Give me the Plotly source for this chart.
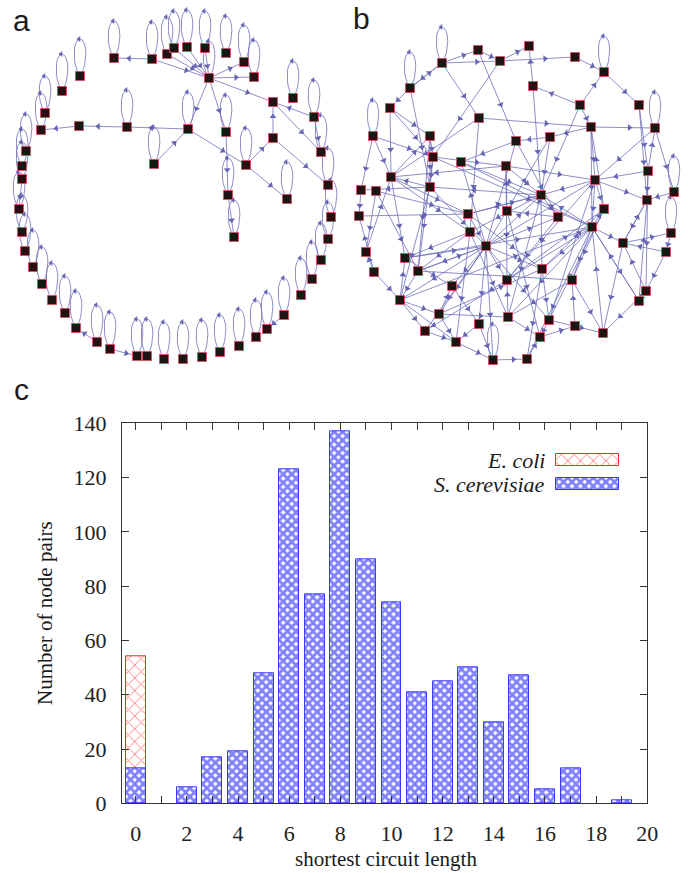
import math
import plotly.graph_objects as go

# ---------------- Panel c: histogram data ----------------
circuit_length = list(range(20))
s_cerevisiae = [13, 0, 6, 17, 19, 48, 123, 77, 137, 90, 74, 41, 45, 50, 30, 47, 5, 13, 0, 1]
e_coli_length = [0]
e_coli = [54]
x_tick_vals = list(range(21))
x_tick_text = [str(v) if v % 2 == 0 else "" for v in x_tick_vals]
y_tick_vals = [0, 20, 40, 60, 80, 100, 120, 140]
legend_names = ["E. coli", "S. cerevisiae"]

# ---------------- Panel a: E. coli network (node positions) -------------
a_x = [114, 152, 167, 174, 187, 205, 226, 244, 254, 209, 80, 62, 45, 41, 79, 127, 188, 154, 226,
       273, 293, 314, 321, 273, 246, 228, 234, 287, 328, 331,
       26, 22, 22, 19, 22, 25, 33, 42, 52, 65, 76, 97, 110, 137, 147, 164, 183, 202, 220, 239,
       256, 267, 284, 301, 312, 321, 328]
a_y = [58, 59, 54, 48, 47, 48, 53, 62, 77, 78, 76, 91, 113, 130, 126, 127, 129, 164, 132,
       102, 98, 117, 152, 138, 165, 195, 237, 199, 185, 217,
       151, 166, 179, 209, 232, 251, 267, 284, 300, 313, 328, 342, 349, 356, 356, 359, 359, 357, 352, 346,
       337, 329, 315, 295, 279, 260, 239]
a_no_loop = [14, 19, 23]
a_edges = [(1, 0), (1, 9), (2, 9), (3, 9), (4, 9), (5, 9), (9, 7), (9, 8), (9, 19), (9, 16), (9, 18),
           (16, 15), (15, 14), (14, 13), (17, 16), (16, 24), (24, 23), (23, 19), (24, 27), (23, 28),
           (19, 22), (21, 19), (21, 22), (18, 25), (25, 26), (41, 40), (42, 43), (52, 51), (32, 33)]

# ---------------- Panel b: S. cerevisiae network ----------------
b_x = [478, 529, 500, 442, 575, 604, 410, 533, 390, 580, 639, 479, 591, 655, 373, 430, 550, 516, 433,
       461, 506, 648, 391, 595, 430, 361, 376, 541, 674, 647, 604, 359, 468, 507, 558, 592, 470, 671,
       623, 486, 366, 666, 405, 418, 374, 542, 507, 572, 452, 646, 400, 639, 439, 508, 479, 549, 575,
       603, 425, 540, 456, 493, 527]
b_y = [50, 46, 61, 63, 57, 72, 88, 86, 108, 105, 105, 118, 127, 128, 136, 136, 137, 141, 157,
       162, 166, 171, 177, 180, 187, 190, 191, 195, 192, 200, 209, 216, 214, 211, 217, 227, 232, 233,
       243, 246, 252, 252, 258, 271, 272, 269, 280, 280, 286, 291, 300, 301, 314, 317, 324, 320, 326,
       333, 331, 337, 342, 360, 359]
b_loops = [3, 5, 6, 13, 14, 28, 37, 61]
b_edges = [(3, 0), (3, 2), (0, 2), (6, 3), (3, 6), (2, 1), (7, 1), (2, 4), (4, 5), (9, 5), (5, 10),
           (9, 7), (9, 12), (9, 27), (12, 13), (12, 16), (11, 12), (3, 11), (6, 8), (8, 15), (6, 24),
           (2, 18), (14, 22), (14, 18), (14, 25), (15, 18), (11, 36), (18, 20), (22, 15), (20, 22),
           (24, 22), (24, 25), (17, 19), (16, 17), (16, 27), (10, 21), (13, 23), (21, 13), (12, 23),
           (23, 27), (21, 23), (23, 29), (7, 27),
           (25, 31), (26, 43), (8, 22), (15, 24), (18, 24), (19, 27), (22, 32), (31, 32), (32, 27),
           (26, 40), (40, 22), (44, 40), (44, 50), (42, 39), (22, 42), (43, 39), (32, 39), (39, 19),
           (39, 27), (39, 34), (39, 45), (39, 46), (39, 48), (39, 52), (39, 50), (39, 54), (39, 55),
           (39, 61), (39, 43), (39, 58), (39, 23), (39, 16), (27, 36), (27, 45), (27, 34), (27, 32),
           (24, 39), (36, 42), (36, 43),
           (23, 30), (23, 35), (35, 30), (35, 38), (35, 47), (35, 51), (35, 53), (35, 27), (35, 45),
           (35, 62), (35, 58), (38, 37), (38, 29), (37, 41), (41, 49), (49, 51), (49, 38), (51, 35),
           (28, 29), (29, 38), (13, 28), (21, 29), (30, 47), (30, 12), (34, 33), (33, 20), (20, 27),
           (17, 34),
           (50, 42), (50, 58), (50, 60), (50, 52), (52, 60), (52, 48), (52, 45), (48, 54), (54, 60),
           (54, 61), (61, 62), (60, 61), (55, 59), (55, 57), (56, 47), (57, 35), (59, 56), (53, 46),
           (52, 53), (45, 55), (47, 57), (58, 60), (42, 48), (43, 50), (44, 31), (45, 30), (46, 30),
           (53, 59), (62, 59), (55, 23), (49, 57), (38, 57),
           (27, 24), (18, 35), (19, 35), (42, 35), (43, 47), (50, 35), (22, 36), (26, 32), (32, 45),
           (17, 39), (20, 46), (34, 46), (23, 46), (12, 35), (11, 22), (8, 18), (15, 43), (18, 43),
           (36, 53), (36, 60), (33, 59), (45, 62), (47, 53), (30, 55), (41, 38), (51, 29), (21, 49),
           (10, 29), (0, 17), (20, 23), (27, 53), (24, 50)]

# ---------------- styles ----------------
W, H = 688, 873
EDGE = "rgba(112,112,188,0.8)"
ARROW = "rgba(96,96,176,0.95)"
NODE_FILL = "#1d1414"
NODE_LINE = "#cc5566"
SERIF = "Liberation Serif, Times New Roman, serif"
SANS = "Liberation Sans, Arial, sans-serif"
INK = "#1a1a1a"

fig = go.Figure()


def add_network(xs, ys, edges, loop_nodes, loop_h):
    ex, ey = [], []
    mx, my, ang = [], [], []
    for s, t in edges:
        x0, y0, x1, y1 = xs[s], ys[s], xs[t], ys[t]
        ex += [x0, x1, None]
        ey += [y0, y1, None]
        f = 0.6
        mx.append(x0 + f * (x1 - x0))
        my.append(y0 + f * (y1 - y0))
        ang.append(math.degrees(math.atan2(x1 - x0, -(y1 - y0))))
    lx, ly, tx, ty = [], [], [], []
    n = 48
    for i in loop_nodes:
        x0, y0 = xs[i], ys[i]
        for k in range(n + 1):
            phi = -math.pi / 2 + math.pi * k / n
            r = loop_h * math.cos(phi) ** 14
            lx.append(x0 + r * math.sin(phi))
            ly.append(y0 - r * math.cos(phi))
        lx.append(None)
        ly.append(None)
        tx.append(x0 - 1)
        ty.append(y0 - loop_h)
    common = dict(xaxis="x4", yaxis="y4", showlegend=False, hoverinfo="skip")
    fig.add_trace(go.Scatter(x=ex, y=ey, mode="lines", line=dict(color=EDGE, width=1), **common))
    fig.add_trace(go.Scatter(x=lx, y=ly, mode="lines", line=dict(color=EDGE, width=1), **common))
    fig.add_trace(go.Scatter(x=mx, y=my, mode="markers",
                             marker=dict(symbol="triangle-up", size=6, angle=ang, color=ARROW,
                                         line=dict(width=0)), **common))
    fig.add_trace(go.Scatter(x=tx, y=ty, mode="markers",
                             marker=dict(symbol="triangle-left", size=5, color=ARROW,
                                         line=dict(width=0)), **common))
    fig.add_trace(go.Scatter(x=xs, y=ys, mode="markers",
                             marker=dict(symbol="square", size=9, color=NODE_FILL,
                                         line=dict(color=NODE_LINE, width=1)), **common))


a_loops = [i for i in range(len(a_x)) if i not in a_no_loop]
add_network(a_x, a_y, a_edges, a_loops, 37)
add_network(b_x, b_y, b_edges, b_loops, 36)

RED_PAT = dict(shape="x", fgcolor="#ff0000", bgcolor="white", size=9, solidity=0.2)
BLUE_PAT = dict(shape="x", fgcolor="#0000ff", bgcolor="white", size=6, solidity=0.72)

# ---------------- bars ----------------
fig.add_trace(go.Bar(
    x=e_coli_length, y=e_coli, width=0.78, name=legend_names[0], showlegend=False,
    marker=dict(color="white", line=dict(color="#ff2222", width=1), pattern=RED_PAT),
    xaxis="x", yaxis="y"))
fig.add_trace(go.Bar(
    x=circuit_length, y=[v if v > 0 else None for v in s_cerevisiae], width=0.78,
    name=legend_names[1], showlegend=False,
    marker=dict(color="white", line=dict(color="#3a3aff", width=1), pattern=BLUE_PAT),
    xaxis="x", yaxis="y"))

# legend swatches (hatched) on a tiny overlay axis
fig.add_trace(go.Bar(
    y=[1], x=[1], orientation="h", width=0.5, showlegend=False, hoverinfo="skip",
    marker=dict(color="white", line=dict(color="#ff2222", width=1), pattern=RED_PAT),
    xaxis="x3", yaxis="y3"))
fig.add_trace(go.Bar(
    y=[0], x=[1], orientation="h", width=0.5, showlegend=False, hoverinfo="skip",
    marker=dict(color="white", line=dict(color="#3a3aff", width=1), pattern=BLUE_PAT),
    xaxis="x3", yaxis="y3"))


def px_x(v):
    return v / W


def px_y(v):
    return 1 - v / H


axis_line = dict(showline=True, linecolor="#333", linewidth=1.3, mirror="ticks",
                 ticks="inside", ticklen=7, tickcolor="#333", tickwidth=1.2,
                 showgrid=False, zeroline=False, automargin=False,
                 tickfont=dict(family=SERIF, size=22, color="#222"))

hidden = dict(visible=False, showgrid=False, zeroline=False, fixedrange=True, automargin=False)

fig.update_layout(
    width=W, height=H, margin=dict(l=0, r=0, t=0, b=0, pad=0, autoexpand=False),
    paper_bgcolor="white", plot_bgcolor="rgba(0,0,0,0)", showlegend=False,
    barmode="overlay", bargap=0,
    xaxis=dict(domain=[px_x(122), px_x(647.3)], range=[-0.535, 20],
               tickmode="array", tickvals=x_tick_vals, ticktext=x_tick_text,
               ticklabelstandoff=10, **axis_line),
    yaxis=dict(domain=[px_y(803.3), px_y(423.3)], range=[0, 140],
               tickmode="array", tickvals=y_tick_vals, ticklabelstandoff=10, **axis_line),
    xaxis3=dict(domain=[px_x(555), px_x(620)], range=[-0.02, 1.02], anchor="y3", **hidden),
    yaxis3=dict(domain=[px_y(496), px_y(448)], range=[-0.5, 1.5], anchor="x3", **hidden),
    xaxis4=dict(domain=[0, 1], range=[0, W], anchor="y4", **hidden),
    yaxis4=dict(domain=[px_y(370), 1], range=[370, 0], anchor="x4", **hidden),
)

annotations = [
    dict(text="a", x=px_x(21), y=px_y(20), font=dict(family=SANS, size=30, color=INK)),
    dict(text="b", x=px_x(361), y=px_y(18), font=dict(family=SANS, size=30, color=INK)),
    dict(text="c", x=px_x(21), y=px_y(390), font=dict(family=SANS, size=30, color=INK)),
    dict(text="Number of node pairs", x=px_x(45), y=px_y(613), textangle=-90,
         font=dict(family=SERIF, size=21, color=INK)),
    dict(text="shortest circuit length", x=px_x(386), y=px_y(859),
         font=dict(family=SERIF, size=21, color=INK)),
]
for a in annotations:
    a.update(xref="paper", yref="paper", showarrow=False, xanchor="center", yanchor="middle")
annotations += [
    dict(text="<i>%s</i>" % legend_names[0], x=px_x(547), y=px_y(460), xanchor="right",
         yanchor="middle", xref="paper", yref="paper", showarrow=False,
         font=dict(family=SERIF, size=22, color=INK)),
    dict(text="<i>%s</i>" % legend_names[1], x=px_x(547), y=px_y(484), xanchor="right",
         yanchor="middle", xref="paper", yref="paper", showarrow=False,
         font=dict(family=SERIF, size=22, color=INK)),
]
fig.update_layout(annotations=annotations)

fig.write_html("out.html", config={"displayModeBar": False},
               post_script="document.body.style.margin='0px';document.body.style.padding='0px';")
